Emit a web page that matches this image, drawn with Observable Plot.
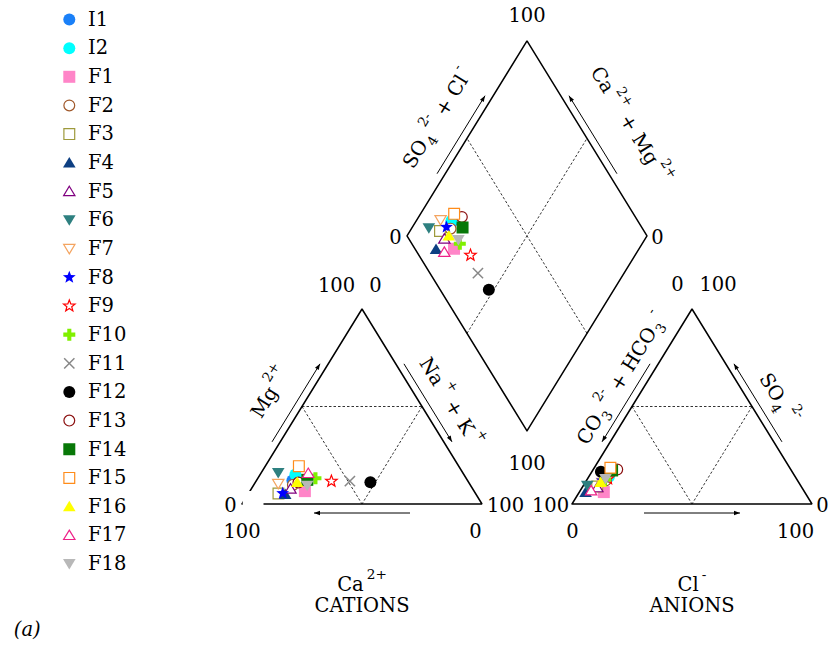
<!DOCTYPE html>
<html><head><meta charset="utf-8">
<script src="https://cdn.jsdelivr.net/npm/d3@7"></script>
<script src="https://cdn.jsdelivr.net/npm/@observablehq/plot@0.6"></script>
<style>
body{margin:0;background:#fff;font-family:"DejaVu Serif"}
</style>
</head><body><div id="chart"></div>
<script>
// ---------------- data (percent of meq/L) ----------------
const samples = ["I1","I2","F1","F2","F3","F4","F5","F6","F7","F8","F9","F10","F11","F12","F13","F14","F15","F16","F17","F18"];
const caPct   = [73, 70.2, 70.5, 73.9, 82.1, 79.5, 75.9, 76.9, 79.7, 80.3, 56.9, 62.8, 49.2, 40.9, 71, 66.6, 66.6, 71.4, 64.5, 68.1];
const mgPct   = [12, 15.1, 6.6, 9.8, 5.4, 5, 7.8, 16.0, 10.4, 5.5, 11.7, 13.2, 11.7, 11.2, 11, 12.4, 19.4, 11.2, 15.8, 9.5];
const naKPct  = [15, 14.7, 22.9, 16.3, 12.5, 15.5, 16.3, 7.1, 9.9, 14.2, 31.4, 24.0, 39.1, 47.9, 18, 21.0, 14.0, 17.4, 19.7, 22.4];
const hco3Pct = [78, 77.6, 83.7, 80, 85, 91.3, 85.2, 88.9, 81.9, 81.3, 78.5, 80, 80, 79.7, 72.3, 74.7, 74.7, 82.5, 88.6, 79.6];
const so4Pct  = [14, 14, 6.1, 12, 9, 6.1, 8.5, 9.5, 11, 12, 13, 12.5, 13.5, 16.5, 17.7, 17.2, 18.6, 11.2, 6.9, 12.9];
const clPct   = [8, 8.4, 10.2, 8, 6, 2.6, 6.3, 1.6, 7.1, 6.7, 8.5, 7.5, 6.5, 3.8, 10, 8.1, 6.7, 6.3, 4.5, 7.5];
const cornerTicks = ["0", "100"];

// ---------------- styles ----------------
const seriesStyle = {
  I1:{symbol:"circle", fill:"#1a80f8"}, I2:{symbol:"circle", fill:"#00ffff"},
  F1:{symbol:"square", fill:"#ff85c8"}, F2:{symbol:"circle", stroke:"#a0582a"},
  F3:{symbol:"square", stroke:"#9e9a3c"}, F4:{symbol:"triUp", fill:"#0d3f82"},
  F5:{symbol:"triUp", stroke:"#800080"}, F6:{symbol:"triDown", fill:"#2e8080"},
  F7:{symbol:"triDown", stroke:"#f4a460"}, F8:{symbol:"star", fill:"#0000ff"},
  F9:{symbol:"star", stroke:"#ff0000"}, F10:{symbol:"plus", fill:"#80f000"},
  F11:{symbol:"times", stroke:"#888888"}, F12:{symbol:"circle", fill:"#000000"},
  F13:{symbol:"circle", stroke:"#8b1010"}, F14:{symbol:"square", fill:"#087808"},
  F15:{symbol:"square", stroke:"#ff8c1a"}, F16:{symbol:"triUp", fill:"#ffff00"},
  F17:{symbol:"triUp", stroke:"#ee2288"}, F18:{symbol:"triDown", fill:"#b8b8b8"}
};
const hs = s => Math.sqrt(s / Math.PI);
const SYM = {
  circle:{draw(c,s){const r=hs(s); c.moveTo(r,0); c.arc(0,0,r,0,2*Math.PI); c.closePath();}},
  square:{draw(c,s){const r=hs(s); c.rect(-r,-r,2*r,2*r);}},
  triUp:{draw(c,s){const r=hs(s); c.moveTo(0,-r*0.95); c.lineTo(r*1.05,r*0.8); c.lineTo(-r*1.05,r*0.8); c.closePath();}},
  triDown:{draw(c,s){const r=hs(s); c.moveTo(0,r*0.95); c.lineTo(r*1.05,-r*0.8); c.lineTo(-r*1.05,-r*0.8); c.closePath();}},
  star:{draw(c,s){const R=hs(s)*1.12, ri=R*0.42; for(let i=0;i<10;i++){const a=-Math.PI/2+i*Math.PI/5, rr=i%2?ri:R; const px=rr*Math.cos(a), py=rr*Math.sin(a); if(i) c.lineTo(px,py); else c.moveTo(px,py);} c.closePath();}},
  plus:{draw(c,s){const r=hs(s), t=r*0.34; c.moveTo(-r,-t); c.lineTo(-t,-t); c.lineTo(-t,-r); c.lineTo(t,-r); c.lineTo(t,-t); c.lineTo(r,-t); c.lineTo(r,t); c.lineTo(t,t); c.lineTo(t,r); c.lineTo(-t,r); c.lineTo(-t,t); c.lineTo(-r,t); c.closePath();}},
  times:{draw(c,s){const r=hs(s)*0.95; c.moveTo(-r,-r); c.lineTo(r,r); c.moveTo(r,-r); c.lineTo(-r,r);}},
  head:{draw(c,s){const r=hs(s); c.moveTo(0,0); c.lineTo(r*0.55,r*1.5); c.lineTo(-r*0.55,r*1.5); c.closePath();}}
};

// ---------------- geometry ----------------
const W = 240, H = 195, GAP = 90, X0 = 241.5, BASE = 503.5;
const AX0 = X0 + W + GAP;
const DBX = X0 + W + GAP / 2, DBY = BASE - (GAP / 2) * (H / (W / 2));
const cat = (ca, mg, na) => ({x: X0 + (na + mg / 2) / 100 * W, y: BASE - mg / 100 * H});
const ani = (hc, so, cl) => ({x: AX0 + (cl + so / 2) / 100 * W, y: BASE - so / 100 * H});
const dia = (c, s) => ({x: DBX + (W / 2) * (s - c) / 100, y: DBY - H * (c + s) / 100});
const ANG = Math.atan2(H, W / 2) * 180 / Math.PI;

const CL = cat(100,0,0), CR = cat(0,0,100), CA = cat(0,100,0);
const AL = ani(100,0,0), AR = ani(0,0,100), AA = ani(0,100,0);
const DB = dia(0,0), DL = dia(100,0), DT = dia(100,100), DR = dia(0,100);

const frames = [
  ...[CL, CR, CA, CL].map(p => ({...p, z:"cat"})),
  ...[AL, AR, AA, AL].map(p => ({...p, z:"ani"})),
  ...[DB, DL, DT, DR, DB].map(p => ({...p, z:"dia"}))
];
const seg = (a, b) => ({x1:a.x, y1:a.y, x2:b.x, y2:b.y});
const dashes = [
  seg(cat(50,50,0), cat(0,50,50)), seg(cat(50,50,0), cat(50,0,50)), seg(cat(0,50,50), cat(50,0,50)),
  seg(ani(50,50,0), ani(0,50,50)), seg(ani(50,50,0), ani(50,0,50)), seg(ani(0,50,50), ani(50,0,50)),
  seg(dia(50,0), dia(50,100)), seg(dia(0,50), dia(100,50))
];
function edgeArrow(P, Q, d, out) {
  const dx = Q.x - P.x, dy = Q.y - P.y;
  const s = {x: P.x + dx * 0.3 + out[0] * d, y: P.y + dy * 0.3 + out[1] * d};
  const e = {x: P.x + dx * 0.7 + out[0] * d, y: P.y + dy * 0.7 + out[1] * d};
  return {x1:s.x, y1:s.y, x2:e.x, y2:e.y, angle: Math.atan2(e.x - s.x, -(e.y - s.y)) * 180 / Math.PI};
}
const nL = [-Math.sin(ANG*Math.PI/180), -Math.cos(ANG*Math.PI/180)];
const nR = [Math.sin(ANG*Math.PI/180), -Math.cos(ANG*Math.PI/180)];
const arrows = [
  edgeArrow(CL, CA, 7, nL),
  edgeArrow(CA, CR, 7, nR),
  edgeArrow(CR, CL, 9, [0, 1]),
  edgeArrow(AA, AL, 7, nL),
  edgeArrow(AR, AA, 7, nR),
  edgeArrow(AL, AR, 9, [0, 1]),
  edgeArrow(DL, DT, 7, nL),
  edgeArrow(DR, DT, 7, nR)
];

// ---------------- points ----------------
const dotMarks = samples.map((name, i) => {
  const st = seriesStyle[name];
  const pts = [
    {x: 68.8, y: 19 + i * 28.65},
    cat(caPct[i], mgPct[i], naKPct[i]),
    ani(hco3Pct[i], so4Pct[i], clPct[i]),
    dia(caPct[i] + mgPct[i], so4Pct[i] + clPct[i])
  ];
  const isTimes = st.symbol === "times";
  const open = !!st.stroke;
  return Plot.dot(pts, {
    x:"x", y:"y", symbol: SYM[st.symbol], r: open ? 5.4 : 6,
    fill: isTimes ? "none" : (open ? "white" : st.fill),
    stroke: open ? st.stroke : "none",
    strokeWidth: isTimes ? 1.5 : 1.2
  });
});

// ---------------- labels ----------------
const t0 = cornerTicks[0], t100 = cornerTicks[1];
const flatLabels = [
  {x: CA.x - 25.5, y: CA.y - 23.5, t: t100}, {x: CA.x + 13.5, y: CA.y - 23.5, t: t0},
  {x: CL.x - 11.5, y: CL.y + 1.5, t: t0}, {x: CR.x + 23.5, y: CR.y + 1.5, t: t100},
  {x: CL.x, y: BASE + 28, t: t100}, {x: CR.x - 6.5, y: BASE + 28, t: t0},
  {x: AA.x - 14.5, y: AA.y - 24, t: t0}, {x: AA.x + 26, y: AA.y - 24, t: t100},
  {x: AL.x - 21.5, y: AL.y + 1.5, t: t100}, {x: AR.x + 10.5, y: AR.y + 1.5, t: t0},
  {x: AL.x + 0.5, y: BASE + 28, t: t0}, {x: AR.x - 16.5, y: BASE + 28, t: t100},
  {x: DT.x, y: DT.y - 25.5, t: t100}, {x: DL.x - 11.5, y: DL.y + 1.5, t: t0},
  {x: DR.x + 10.5, y: DR.y + 1.5, t: t0}, {x: DB.x, y: DB.y + 32.6, t: t100},
  {x: CA.x, y: 584, t: "Ca^{2+}"}, {x: CA.x, y: 605, t: "CATIONS"},
  {x: AA.x, y: 584, t: "Cl^{-}"}, {x: AA.x, y: 605, t: "ANIONS"}
];
const leftLabels = [
  {x: 270, y: 392, t: "Mg^{2+}"},
  {x: 621, y: 378, t: "CO_{3}^{2-} + HCO_{3}^{-}"},
  {x: 437, y: 118, t: "SO_{4}^{2-} + Cl^{-}"}
];
const rightLabels = [
  {x: 450, y: 402, t: "Na^{+} + K^{+}"},
  {x: 778, y: 398, t: "SO_{4}^{2-}"},
  {x: 630, y: 125, t: "Ca^{2+} + Mg^{2+}"}
];
const legendLabels = samples.map((s, i) => ({x: 87.5, y: 19 + i * 28.65, t: s}));

const FS = 19.5;
const FF = "DejaVu Serif";
const chart = Plot.plot({
  width: 830, height: 645, margin: 0,
  x: {domain: [0, 830], range: [0, 830], axis: null},
  y: {domain: [0, 645], range: [0, 645], axis: null},
  style: "background: white; overflow: visible; font-family: 'DejaVu Serif';",
  marks: [
    Plot.link(dashes, {x1:"x1", y1:"y1", x2:"x2", y2:"y2", stroke:"black", strokeWidth:0.8, strokeDasharray:"2.5,2"}),
    Plot.line(frames, {x:"x", y:"y", z:"z", stroke:"black", strokeWidth:1.5, strokeLinejoin:"miter"}),
    Plot.rect([{x1: CL.x + 1.2, x2: CL.x + 22, y1: CL.y - 12.5, y2: CL.y + 12}], {x1:"x1", x2:"x2", y1:"y1", y2:"y2", fill:"white"}),
    Plot.link(arrows, {x1:"x1", y1:"y1", x2:"x2", y2:"y2", stroke:"black", strokeWidth:1}),
    Plot.dot(arrows, {x:"x2", y:"y2", rotate:"angle", symbol: SYM.head, r: 4, fill:"black", stroke:"none"}),
    ...dotMarks,
    Plot.text(flatLabels, {x:"x", y:"y", text:"t", fontSize: FS, fontFamily: FF, fill:"black"}),
    Plot.text(leftLabels, {x:"x", y:"y", text:"t", fontSize: FS, fontFamily: FF, rotate: -ANG, fill:"black"}),
    Plot.text(rightLabels, {x:"x", y:"y", text:"t", fontSize: FS, fontFamily: FF, rotate: ANG, fill:"black"}),
    Plot.text(legendLabels, {x:"x", y:"y", text:"t", fontSize: FS, fontFamily: FF, textAnchor:"start", fill:"black"}),
    Plot.text([{x: 26.7, y: 629, t: "(a)"}], {x:"x", y:"y", text:"t", fontSize: FS, fontFamily: FF, fontStyle:"italic", fill:"black"})
  ]
});

const NS = "http://www.w3.org/2000/svg";
chart.querySelectorAll("text").forEach(el => {
  el.setAttribute("font-family", FF);
  const s = el.textContent;
  if (!/[\^_]\{/.test(s)) return;
  const parts = s.match(/\^\{[^}]*\}|_\{[^}]*\}|[^\^_]+/g);
  el.textContent = "";
  let shift = 0;
  for (const p of parts) {
    const kind = p[0] === "^" ? "sup" : p[0] === "_" ? "sub" : null;
    const txt = kind ? p.slice(2, -1) : p;
    const target = kind === "sup" ? -0.62 * FS : kind === "sub" ? 0.3 * FS : 0;
    const ts = document.createElementNS(NS, "tspan");
    ts.setAttribute("dy", target - shift);
    shift = target;
    if (kind) { ts.setAttribute("font-size", FS * 0.7); ts.setAttribute("dx", kind === "sup" ? 3 : 1); }
    ts.textContent = txt;
    el.appendChild(ts);
  }
});
document.getElementById("chart").appendChild(chart);
</script>
</body></html>
